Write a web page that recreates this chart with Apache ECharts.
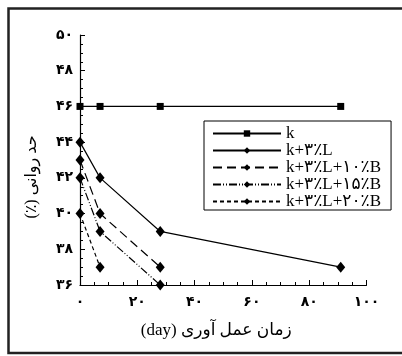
<!DOCTYPE html>
<html>
<head>
<meta charset="utf-8">
<script src="https://cdn.jsdelivr.net/npm/echarts@6/dist/echarts.min.js"></script>
<style>
  html, body { margin: 0; padding: 0; background: #fff; }
  #chart { width: 402px; height: 356px; }
</style>
</head>
<body>
<div id="chart"></div>
<script>
// curing time (day)
const days = [0, 7, 28, 91]

// liquid limit (%)
const kValues = [46, 46, 46, 46]
const kLValues = [44, 42, 39, 37]
const kL10BValues = [43, 40, 37]
const kL15BValues = [42, 39, 36]
const kL20BValues = [40, 37]

const seriesNames = ['k', 'k+۳٪L', 'k+۳٪L+۱۰٪B', 'k+۳٪L+۱۵٪B', 'k+۳٪L+۲۰٪B']

// tick labels in Persian digits
const xTickLabels = { 0: '۰', 20: '۲۰', 40: '۴۰', 60: '۶۰', 80: '۸۰', 100: '۱۰۰' }
const yTickLabels = { 36: '۳۶', 38: '۳۸', 40: '۴۰', 42: '۴۲', 44: '۴۴', 46: '۴۶', 48: '۴۸', 50: '۵۰' }

const serifFont = '"Liberation Serif", "DejaVu Serif", "DejaVu Sans", serif'

function pairs(values) {
  return values.map((v, i) => [days[i], v])
}

function lineSeries(name, values, symbol, dash) {
  return {
    name: name,
    type: 'line',
    data: pairs(values),
    symbol: symbol,
    symbolSize: symbol === 'rect' ? 7 : [9, 11],
    itemStyle: { color: '#000' },
    lineStyle: { color: '#000', width: 1.2, type: dash },
    emphasis: { disabled: true },
    animation: false,
    z: 3
  }
}

const chart = echarts.init(document.getElementById('chart'))

const option = {
  animation: false,
  backgroundColor: '#fff',
  grid: { left: 80, right: 35.5, top: 35, bottom: 71 },
  graphic: [
    {
      type: 'rect',
      shape: { x: 8.5, y: 8.5, width: 402, height: 344.5 },
      style: { fill: 'none', stroke: '#222', lineWidth: 2.5 },
      silent: true
    }
  ],
  legend: {
    orient: 'vertical',
    left: 204,
    top: 121,
    padding: [4, 10, 0, 8],
    itemWidth: 68,
    itemHeight: 8,
    itemGap: 0,
    borderColor: '#000',
    borderWidth: 1,
    backgroundColor: '#fff',
    textStyle: { fontFamily: serifFont, fontSize: 17, lineHeight: 17, color: '#000' },
    data: seriesNames
  },
  xAxis: {
    type: 'value',
    min: 0,
    max: 100,
    interval: 20,
    name: '\u202Bزمان عمل آوری (day)\u202C',
    nameLocation: 'middle',
    nameGap: 37,
    nameTextStyle: { fontFamily: serifFont, fontSize: 17, color: '#000', padding: [0, 14, 0, 0] },
    axisLine: { lineStyle: { color: '#000', width: 1.2 } },
    axisTick: { inside: true, length: 5, lineStyle: { color: '#000' } },
    minorTick: { show: true, splitNumber: 4, length: 3, lineStyle: { color: '#000' } },
    splitLine: { show: false },
    axisLabel: {
      margin: 10,
      fontFamily: serifFont,
      fontSize: 14,
      fontWeight: 'bold',
      color: '#000',
      formatter: v => xTickLabels[v] ?? ''
    }
  },
  yAxis: {
    type: 'value',
    min: 36,
    max: 50,
    interval: 2,
    name: '\u202Bحد روانی (٪)\u202C',
    nameLocation: 'middle',
    nameGap: 40,
    nameTextStyle: { fontFamily: serifFont, fontSize: 16, color: '#000', padding: [0, 34, 0, 0] },
    axisLine: { show: true, lineStyle: { color: '#000', width: 1.2 } },
    axisTick: { show: true, inside: true, length: 5, lineStyle: { color: '#000' } },
    minorTick: { show: true, splitNumber: 4, length: 3, lineStyle: { color: '#000' } },
    splitLine: { show: false },
    axisLabel: {
      margin: 7,
      fontFamily: serifFont,
      fontSize: 14,
      fontWeight: 'bold',
      color: '#000',
      formatter: v => yTickLabels[v] ?? ''
    }
  },
  series: [
    lineSeries(seriesNames[0], kValues, 'rect', 'solid'),
    lineSeries(seriesNames[1], kLValues, 'diamond', 'solid'),
    lineSeries(seriesNames[2], kL10BValues, 'diamond', [9, 5]),
    lineSeries(seriesNames[3], kL15BValues, 'diamond', [8, 2, 1, 2, 1, 2]),
    lineSeries(seriesNames[4], kL20BValues, 'diamond', [4, 3])
  ]
}

chart.setOption(option)
</script>
</body>
</html>
